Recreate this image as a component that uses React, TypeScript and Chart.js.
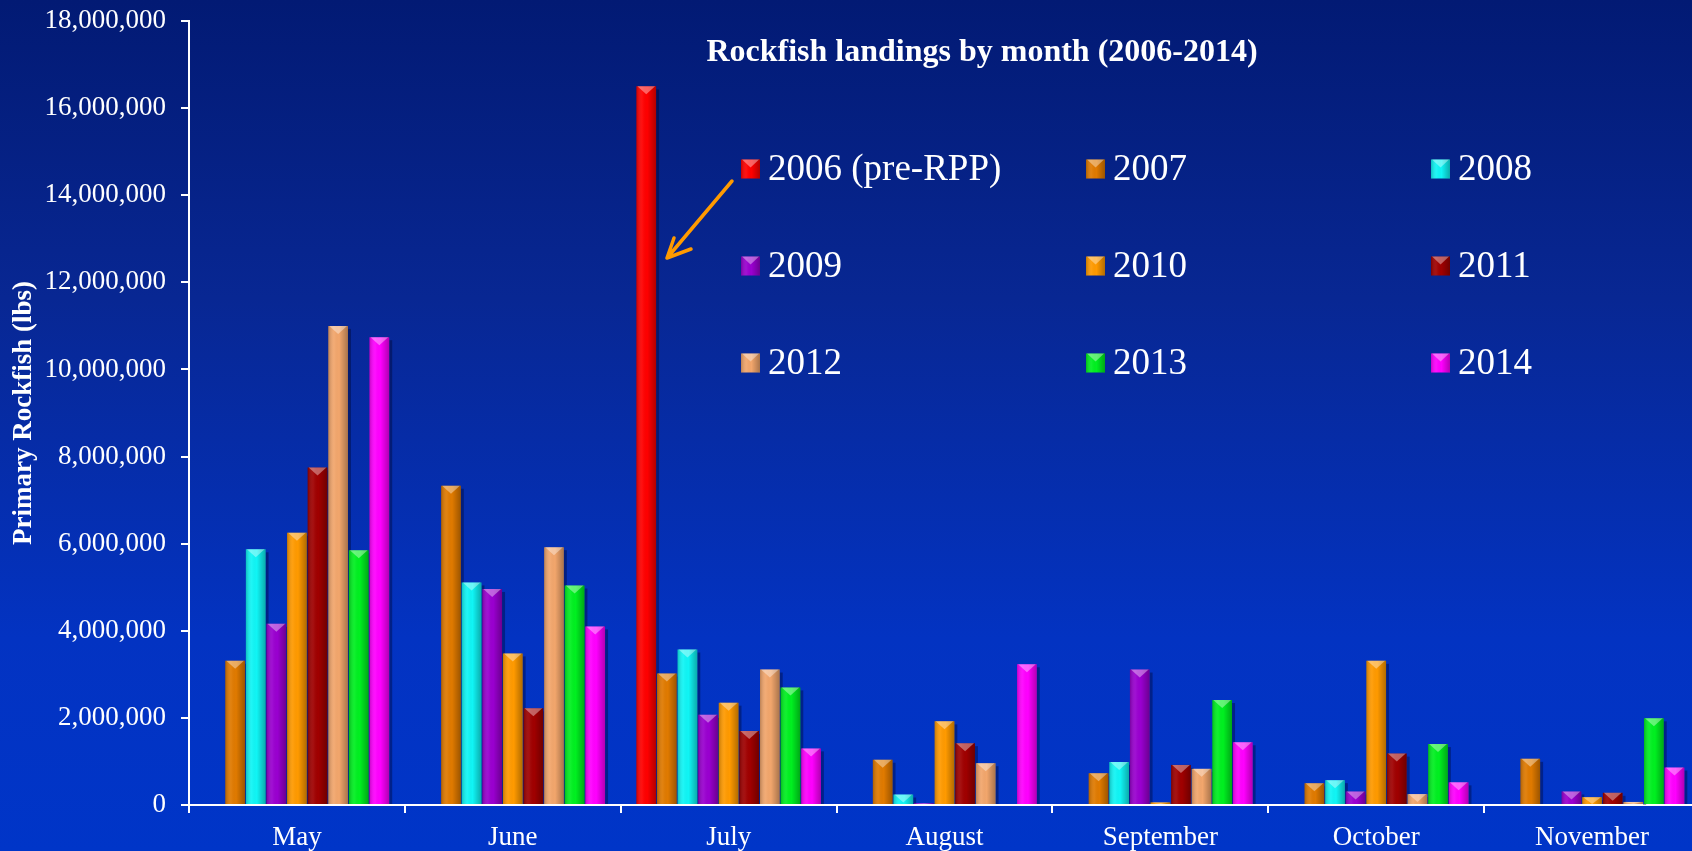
import { useEffect, useRef } from 'react';
import { Chart, registerables } from 'chart.js';

Chart.register(...registerables);

const months = ['May', 'June', 'July', 'August', 'September', 'October', 'November'];
const seriesLabels = ['2006 (pre-RPP)', '2007', '2008', '2009', '2010', '2011', '2012', '2013', '2014'];
const seriesColors = ['#ff0000', '#e07a00', '#10f5f5', '#9a00d0', '#ff9a00', '#a00000', '#f2a66c', '#00f020', '#ff00ff'];

const y2006 = [0, 0, 16500000, 0, 0, 0, 0];
const y2007 = [3310000, 7330000, 3020000, 1040000, 730000, 500000, 1060000];
const y2008 = [5870000, 5110000, 3570000, 240000, 990000, 570000, 0];
const y2009 = [4160000, 4960000, 2070000, 40000, 3110000, 310000, 310000];
const y2010 = [6250000, 3480000, 2350000, 1920000, 60000, 3310000, 180000];
const y2011 = [7750000, 2220000, 1700000, 1420000, 920000, 1180000, 280000];
const y2012 = [11000000, 5920000, 3110000, 960000, 830000, 250000, 70000];
const y2013 = [5850000, 5040000, 2700000, 0, 2410000, 1400000, 1990000];
const y2014 = [10740000, 4100000, 1300000, 3230000, 1440000, 520000, 860000];
const seriesValues = [y2006, y2007, y2008, y2009, y2010, y2011, y2012, y2013, y2014];

const yTicks = [0, 2000000, 4000000, 6000000, 8000000, 10000000, 12000000, 14000000, 16000000, 18000000];

const chartTitle = 'Rockfish landings by month (2006-2014)';
const yTitle = 'Primary Rockfish (lbs)';
const FONT = '"Liberation Serif", "Times New Roman", serif';

function decorateBar(ctx: CanvasRenderingContext2D, x: number, y: number, w: number, h: number) {
  if (h < 0.5) return;
  const left = x - w / 2;
  const right = x + w / 2;
  const g = ctx.createLinearGradient(left, 0, right, 0);
  g.addColorStop(0, 'rgba(0,0,0,0.22)');
  g.addColorStop(0.3, 'rgba(255,255,255,0.06)');
  g.addColorStop(0.55, 'rgba(0,0,0,0)');
  g.addColorStop(1, 'rgba(0,0,0,0.3)');
  ctx.fillStyle = g;
  ctx.fillRect(left, y, w, h);
  const th = Math.min(8, h);
  ctx.beginPath();
  ctx.moveTo(left + 1, y);
  ctx.lineTo(right - 1, y);
  ctx.lineTo(x, y + th);
  ctx.closePath();
  ctx.fillStyle = 'rgba(255,255,255,0.38)';
  ctx.fill();
}

const barDecor = {
  id: 'barDecor',
  beforeDatasetsDraw(chart: any) {
    const ctx = chart.ctx;
    ctx.save();
    chart.data.datasets.forEach((_ds: any, di: number) => {
      const meta = chart.getDatasetMeta(di);
      meta.data.forEach((el: any) => {
        const p = el.getProps(['x', 'y', 'base', 'width'], true);
        const h = p.base - p.y;
        if (h < 2) return;
        ctx.fillStyle = 'rgba(0,0,30,0.35)';
        ctx.fillRect(p.x + p.width / 2, p.y + 3, 3, h - 3);
      });
    });
    ctx.restore();
  },
  afterDatasetsDraw(chart: any) {
    const ctx = chart.ctx;
    ctx.save();
    chart.data.datasets.forEach((_ds: any, di: number) => {
      const meta = chart.getDatasetMeta(di);
      meta.data.forEach((el: any) => {
        const p = el.getProps(['x', 'y', 'base', 'width'], true);
        decorateBar(ctx, p.x, p.y, p.width, p.base - p.y);
      });
    });
    ctx.restore();
  },
};

const overlay = {
  id: 'overlay',
  afterDraw(chart: any) {
    const ctx: CanvasRenderingContext2D = chart.ctx;
    ctx.save();
    // title
    ctx.fillStyle = '#ffffff';
    ctx.font = `bold 32px ${FONT}`;
    ctx.textAlign = 'center';
    ctx.textBaseline = 'middle';
    ctx.fillText(chartTitle, 982, 53);

    // legend grid 3x3
    const colBox = [741, 1086, 1431];
    const rowY = [169, 266, 363];
    ctx.font = `37px ${FONT}`;
    ctx.textAlign = 'left';
    seriesLabels.forEach((label, i) => {
      const cx = colBox[i % 3];
      const cy = rowY[Math.floor(i / 3)];
      const s = 19;
      ctx.fillStyle = seriesColors[i];
      ctx.fillRect(cx, cy - s / 2, s, s);
      decorateBar(ctx, cx + s / 2, cy - s / 2, s, s);
      ctx.fillStyle = '#ffffff';
      ctx.fillText(label, cx + 27, cy + 1);
    });

    // arrow
    ctx.strokeStyle = '#ff9a00';
    ctx.lineWidth = 3.5;
    ctx.lineCap = 'round';
    ctx.lineJoin = 'round';
    ctx.beginPath();
    ctx.moveTo(732, 181);
    ctx.lineTo(667, 258);
    ctx.moveTo(674, 238);
    ctx.lineTo(667, 258);
    ctx.lineTo(691, 249);
    ctx.stroke();
    ctx.restore();
  },
};

export default function App() {
  const ref = useRef<HTMLCanvasElement>(null);
  useEffect(() => {
    const chart = new Chart(ref.current as HTMLCanvasElement, {
      type: 'bar',
      data: {
        labels: months,
        datasets: seriesValues.map((vals, i) => ({
          label: seriesLabels[i],
          data: vals,
          backgroundColor: seriesColors[i],
          borderWidth: 0,
          categoryPercentage: 0.859,
          barPercentage: 0.956,
        })),
      },
      options: {
        responsive: false,
        animation: false,
        events: [],
        layout: { padding: { top: 21, left: 0, right: 0, bottom: 0 } },
        plugins: {
          legend: { display: false },
          title: { display: false },
          tooltip: { enabled: false },
        },
        scales: {
          x: {
            grid: { display: true, drawOnChartArea: false, drawTicks: true, tickLength: 8, color: '#ffffff', lineWidth: 2, offset: true },
            border: { display: true, color: '#ffffff', width: 2 },
            ticks: { color: '#ffffff', font: { family: FONT, size: 27 }, padding: 9, maxRotation: 0, autoSkip: false },
            afterFit: (s: any) => { s.height = 46; s.paddingLeft = 0; s.paddingRight = 0; },
          },
          y: {
            min: 0,
            max: 18000000,
            afterBuildTicks: (s: any) => { s.ticks = yTicks.map((v) => ({ value: v })); },
            ticks: {
              color: '#ffffff',
              font: { family: FONT, size: 27 },
              padding: 15,
              callback: (v: any) => Number(v).toLocaleString('en-US'),
            },
            grid: { display: true, drawOnChartArea: false, drawTicks: true, tickLength: 8, color: '#ffffff', lineWidth: 2 },
            border: { display: true, color: '#ffffff', width: 2 },
            title: { display: true, text: yTitle, color: '#ffffff', font: { family: FONT, size: 27, weight: 'bold' }, padding: { top: 8, bottom: 0 } },
            afterFit: (s: any) => { s.width = 189; s.paddingTop = 0; s.paddingBottom = 0; },
          },
        },
      },
      plugins: [barDecor, overlay],
    } as any);
    return () => chart.destroy();
  }, []);
  return (
    <div
      style={{
        position: 'fixed',
        left: 0,
        top: 0,
        width: 1692,
        height: 851,
        overflow: 'hidden',
        background: 'linear-gradient(180deg, #021a74 0%, #082793 35%, #0333c2 75%, #0035c8 100%)',
      }}
    >
      <canvas ref={ref} width={1700} height={851} style={{ display: 'block' }} />
    </div>
  );
}
